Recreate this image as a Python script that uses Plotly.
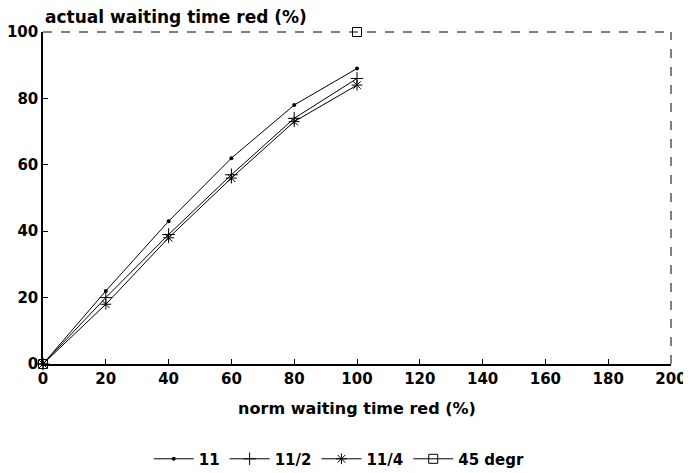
import plotly.graph_objects as go

x_vals = [0, 20, 40, 60, 80, 100]
s11 = [0, 22, 43, 62, 78, 89]
s11_2 = [0, 20, 39, 57, 74, 86]
s11_4 = [0, 18, 38, 56, 73, 84]
x45 = [0, 100]
y45 = [0, 100]
x_ticks = [0, 20, 40, 60, 80, 100, 120, 140, 160, 180, 200]
y_ticks = [0, 20, 40, 60, 80, 100]

FONT = "DejaVu Sans"
BF = dict(family=FONT, size=15, color="black", weight="bold")
fig = go.Figure()

line = dict(color="black", width=1)
fig.add_trace(go.Scatter(x=x_vals, y=s11, mode="lines+markers", name="11",
                         line=line, marker=dict(symbol="circle", size=4, color="black"),
                         cliponaxis=False))
fig.add_trace(go.Scatter(x=x_vals, y=s11_2, mode="lines+markers", name="11/2",
                         line=line, marker=dict(symbol="cross-thin", size=9,
                                                line=dict(color="black", width=1)),
                         cliponaxis=False))
fig.add_trace(go.Scatter(x=x_vals, y=s11_4, mode="lines+markers", name="11/4",
                         line=line, marker=dict(symbol="asterisk", size=9,
                                                line=dict(color="black", width=1)),
                         cliponaxis=False))
fig.add_trace(go.Scatter(x=x45, y=y45, mode="markers", name="45 degr", showlegend=False,
                         marker=dict(symbol="square-open", size=9, color="black",
                                     line=dict(color="black", width=1)),
                         cliponaxis=False))
fig.add_trace(go.Scatter(x=[None], y=[None], mode="lines+markers", name="45 degr",
                         line=line, marker=dict(symbol="square-open", size=9, color="black")))

fig.update_layout(
    width=683, height=465,
    margin=dict(l=35, r=20, t=24, b=109),
    paper_bgcolor="white", plot_bgcolor="white",
    font=BF,
    showlegend=True,
    legend=dict(orientation="h", xref="container", yref="container",
                x=0.485, xanchor="center", y=0.03, yanchor="middle",
                font=BF, itemwidth=40, tracegroupgap=0),
    xaxis=dict(range=[0, 200], tickvals=x_ticks, showgrid=False, zeroline=False,
               showline=True, linecolor="black", linewidth=1.5, automargin=False,
               ticks="inside", ticklen=5, tickcolor="black", tickfont=BF,
               title=dict(text="norm waiting time red (%)", standoff=16,
                          font=dict(family=FONT, size=16, color="black", weight="bold"))),
    yaxis=dict(range=[0, 100], tickvals=y_ticks, showgrid=False, zeroline=False,
               showline=True, linecolor="black", linewidth=1.5, automargin=False,
               ticks="inside", ticklen=5, tickcolor="black", tickfont=BF),
    annotations=[dict(text="actual waiting time red (%)", xref="paper", yref="paper",
                      x=0, y=1, xanchor="left", yanchor="bottom", yshift=3, showarrow=False,
                      font=dict(family=FONT, size=17, color="black", weight="bold"))],
    shapes=[
        dict(type="line", xref="paper", yref="paper", x0=0, x1=1, y0=1, y1=1,
             line=dict(color="black", width=1, dash="dash")),
        dict(type="line", xref="paper", yref="paper", x0=1, x1=1, y0=0, y1=1,
             line=dict(color="black", width=1, dash="dash")),
    ],
)

fig.write_html("out.html")
